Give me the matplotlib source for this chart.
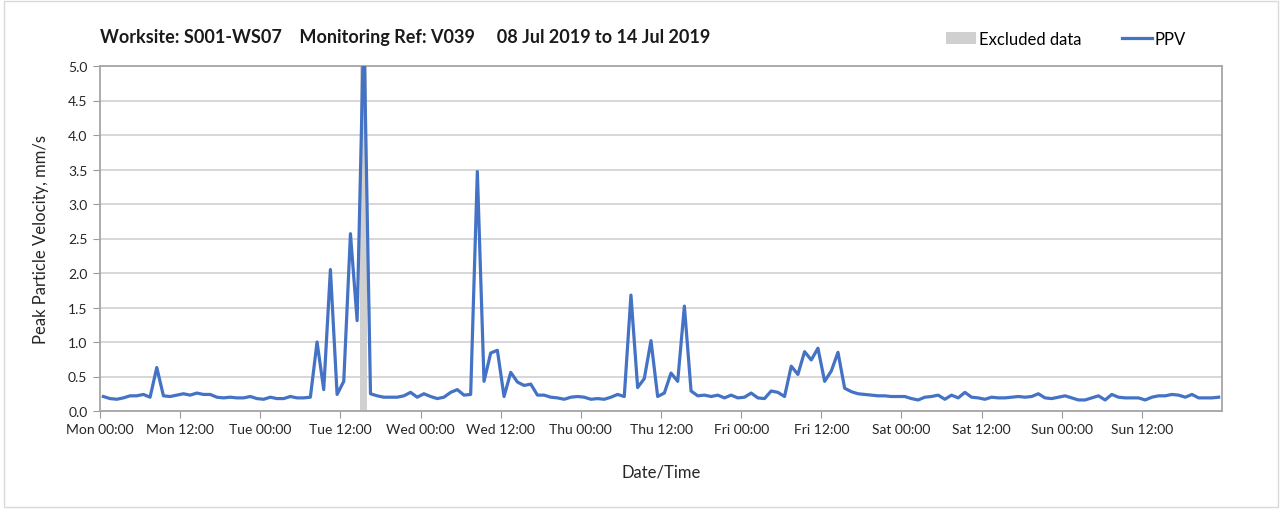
import numpy as np
import matplotlib
matplotlib.use("Agg")
import matplotlib.pyplot as plt
from matplotlib.patches import Patch, Rectangle
from matplotlib.lines import Line2D

plt.rcParams['font.family'] = ['Lato', 'DejaVu Sans']

# hourly PPV (mm/s), one list per day, sample at the middle of each hour
mon = [0.21, 0.18, 0.17, 0.19, 0.22, 0.22, 0.24, 0.20, 0.63, 0.22, 0.21, 0.23,
       0.25, 0.23, 0.26, 0.24, 0.24, 0.20, 0.19, 0.20, 0.19, 0.19, 0.21, 0.18]
tue = [0.17, 0.20, 0.18, 0.18, 0.21, 0.19, 0.19, 0.20, 1.00, 0.31, 2.05, 0.24,
       0.43, 2.57, 1.31, 5.60, 0.25, 0.22, 0.20, 0.20, 0.20, 0.22, 0.27, 0.20]
wed = [0.25, 0.21, 0.18, 0.20, 0.27, 0.31, 0.23, 0.24, 3.47, 0.43, 0.84, 0.88,
       0.21, 0.56, 0.42, 0.37, 0.39, 0.23, 0.23, 0.20, 0.19, 0.17, 0.20, 0.21]
thu = [0.20, 0.17, 0.18, 0.17, 0.20, 0.24, 0.21, 1.68, 0.34, 0.47, 1.02, 0.21,
       0.26, 0.55, 0.43, 1.52, 0.29, 0.22, 0.23, 0.21, 0.23, 0.19, 0.23, 0.19]
fri = [0.20, 0.26, 0.19, 0.18, 0.29, 0.27, 0.21, 0.65, 0.53, 0.86, 0.74, 0.91,
       0.43, 0.58, 0.85, 0.33, 0.28, 0.25, 0.24, 0.23, 0.22, 0.22, 0.21, 0.21]
sat = [0.21, 0.18, 0.16, 0.20, 0.21, 0.23, 0.17, 0.23, 0.19, 0.27, 0.20, 0.19,
       0.17, 0.20, 0.19, 0.19, 0.20, 0.21, 0.20, 0.21, 0.25, 0.19, 0.18, 0.20]
sun = [0.22, 0.19, 0.16, 0.16, 0.19, 0.22, 0.16, 0.24, 0.20, 0.19, 0.19, 0.19,
       0.16, 0.20, 0.22, 0.22, 0.24, 0.23, 0.20, 0.24, 0.19, 0.19, 0.19, 0.20]

days = ['Mon', 'Tue', 'Wed', 'Thu', 'Fri', 'Sat', 'Sun']
excluded = (39, 40)  # hours from Mon 00:00

ppv = mon + tue + wed + thu + fri + sat + sun
hours = np.arange(len(ppv)) + 0.5

tick_pos = np.arange(0, 168, 12)
tick_lbl = [f"{d} {hh}" for d in days for hh in ('00:00', '12:00')]

fig = plt.figure(figsize=(12.83, 5.10), dpi=100)
ax = fig.add_axes([100 / 1283, 1 - 412 / 510, 1122 / 1283, 345 / 510])

# chart outer border
fig.patches.append(Rectangle((4 / 1283, 0.004), 1274 / 1283, 0.992, transform=fig.transFigure,
                             fill=False, edgecolor='#d9d9d9', linewidth=1))

ax.axvspan(excluded[0], excluded[1], color='#d0d0d0', lw=0, zorder=1)
ax.plot(hours, ppv, color='#4472C4', lw=2.3, zorder=3, clip_on=True)

ax.set_xlim(0, 168)
ax.set_ylim(0, 5.0)
ax.set_yticks(np.arange(0, 5.01, 0.5))
ax.set_yticklabels([f"{v:.1f}" for v in np.arange(0, 5.01, 0.5)])
ax.set_xticks(tick_pos)
ax.set_xticklabels(tick_lbl)
ax.set_xticks(np.arange(24, 168, 24), minor=True)

ax.grid(True, which='major', axis='y', color='#d4d4d4', lw=1.3)
ax.grid(True, which='minor', axis='x', color='#d4d4d4', lw=1.3)
ax.set_axisbelow(True)
ax.tick_params(axis='both', which='major', direction='out', length=5, color='#9a9a9a',
               labelsize=10, labelcolor='#262626', pad=4)
ax.tick_params(axis='x', which='minor', length=5, color='#9a9a9a')
for s in ax.spines.values():
    s.set_color('#a6a6a6')
    s.set_linewidth(1.3)

ax.set_ylabel('Peak Particle Velocity, mm/s', fontsize=12, color='#262626', labelpad=14)
ax.set_xlabel('Date/Time', fontsize=12, color='#262626', labelpad=20)

fig.text(100 / 1283, 1 - 37 / 510,
         'Worksite: S001-WS07    Monitoring Ref: V039     08 Jul 2019 to 14 Jul 2019',
         fontsize=13, fontweight='bold', va='center', ha='left', color='#1a1a1a')

handles = [Patch(facecolor='#d0d0d0', edgecolor='none', label='Excluded data'),
           Line2D([0], [0], color='#4472C4', lw=2.3, label='PPV')]
fig.legend(handles=handles, ncol=2, loc='center', bbox_to_anchor=(1066 / 1283, 1 - 40 / 510),
           frameon=False, fontsize=12, handlelength=1.8, handletextpad=0.2, columnspacing=2.4)

fig.savefig('out.png', dpi=100)
